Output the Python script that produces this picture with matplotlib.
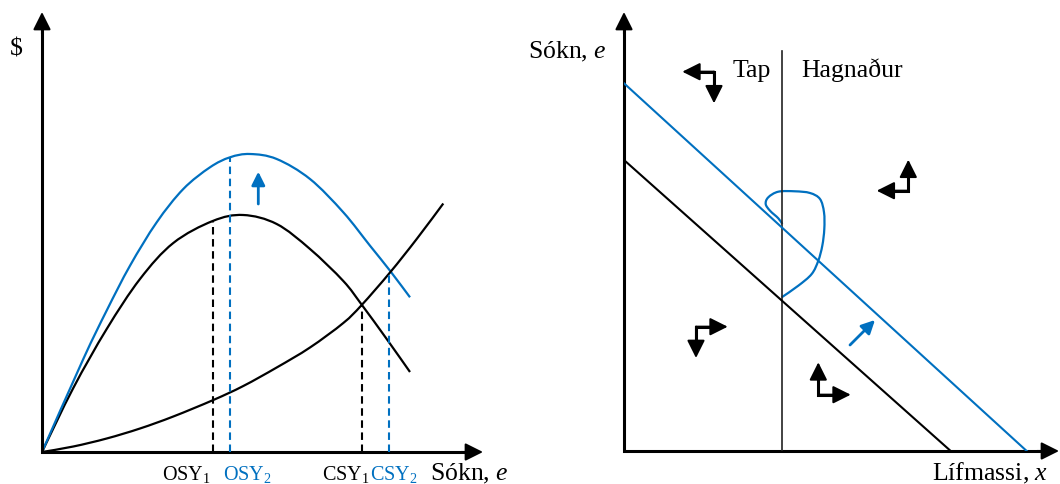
import matplotlib
matplotlib.use('Agg')
import matplotlib.pyplot as plt
from matplotlib.path import Path
from matplotlib.patches import PathPatch

plt.rcParams['font.family'] = ['Liberation Serif', 'DejaVu Serif']
plt.rcParams['mathtext.fontset'] = 'custom'
plt.rcParams['mathtext.rm'] = 'Liberation Serif'
plt.rcParams['mathtext.it'] = 'Liberation Serif:italic'

BLUE = '#0070C0'

# ---------------- left panel data (effort, $) ----------------
tr1_e = [0, 31.3, 64.7, 98, 131.3, 170.7, 201.3, 234.7, 268, 301.3, 319.7, 344.7, 368]
tr1_v = [0, 64, 123, 173, 209, 231, 237, 228, 203, 171, 147.3, 113, 80]

tr2_e = [0, 41.3, 64.7, 88, 114.7, 141.3, 168, 188, 208, 234.7, 268, 301.3, 328, 348, 368]
tr2_v = [0, 93, 141.5, 186.3, 229.7, 263, 284.7, 294.7, 298, 293, 273, 239.7, 206.3, 181.3, 154.7]

cost_e = [0, 31.3, 64.7, 98, 131.3, 171.3, 201.3, 234.7, 268, 301.3, 319.7, 348, 374.7, 401.3]
cost_v = [0, 5.5, 13.5, 23.5, 35.5, 52, 66, 84.5, 104.5, 129, 147, 179.5, 213, 248.5]

yield_e = [170.7, 188, 319.7, 347]
yield_top = [231, 294.7, 147, 180.5]
yield_labels = ['OSY$_1$', 'OSY$_2$', 'CSY$_1$', 'CSY$_2$']
yield_colors = ['black', BLUE, 'black', BLUE]
label_e = [120, 181, 280, 328]

shift_arrow_left = ((216.3, 248), (216.3, 280.3))

# ---------------- right panel data (biomass, effort) ----------------
iso1_x = [0, 326.7]
iso1_y = [291, 0]
iso2_x = [0, 402.7]
iso2_y = [367.7, 0]
breakeven_x = 158.3
breakeven_top = 400.3

spiral_x = [157.7, 174.3, 187.7, 194.3, 198.3, 200.3, 200, 196, 186, 171, 154.3, 144.3, 141.7, 146, 154.3, 158.3]
spiral_y = [153.7, 165.3, 177, 190.3, 205.3, 222, 238.7, 252, 258, 259.7, 259.3, 253.7, 247, 240.3, 232.7, 227]

# direction pairs: corner, horizontal tip x, vertical tip y
dir_corner = [(90, 379.3), (284.3, 260.3), (72, 124.3), (194.3, 56.3)]
dir_htip = [58.3, 252.7, 103.7, 226.7]
dir_vtip = [347.7, 291.3, 93, 88.7]

shift_arrow_right = ((226, 106), (251, 131))

fig = plt.figure(figsize=(10.6, 4.85), dpi=100)


def smooth(ax, xs, ys, color, lw):
    """Draw a smooth curve through the read points (Catmull-Rom as Bezier path)."""
    pts = list(zip(xs, ys))
    n = len(pts)
    verts = [pts[0]]
    codes = [Path.MOVETO]
    for i in range(n - 1):
        p0 = pts[i - 1] if i > 0 else pts[i]
        p1 = pts[i]
        p2 = pts[i + 1]
        p3 = pts[i + 2] if i + 2 < n else pts[i + 1]
        c1 = (p1[0] + (p2[0] - p0[0]) / 6, p1[1] + (p2[1] - p0[1]) / 6)
        c2 = (p2[0] - (p3[0] - p1[0]) / 6, p2[1] - (p3[1] - p1[1]) / 6)
        verts += [c1, c2, p2]
        codes += [Path.CURVE4] * 3
    ax.add_patch(PathPatch(Path(verts, codes), fill=False, edgecolor=color, lw=lw,
                           capstyle='butt', clip_on=False))


def arrow(ax, start, tip, color, ms, lw):
    ax.annotate('', xy=tip, xytext=start, annotation_clip=False,
                arrowprops=dict(arrowstyle='-|>,head_length=0.4,head_width=0.2',
                                mutation_scale=ms, lw=lw, color=color,
                                shrinkA=0, shrinkB=0))


def axis_arrows(ax, xmax, ymax):
    ax.plot([0, 0, xmax - 12], [ymax - 12, 0, 0], color='black', lw=2.2,
            solid_joinstyle='miter', clip_on=False)
    arrow(ax, (xmax - 22, 0), (xmax, 0), 'black', 27, 1.5)
    arrow(ax, (0, ymax - 22), (0, ymax), 'black', 27, 1.5)


# ---------------- left ----------------
axL = fig.add_axes([42 / 1060, 32 / 485, 441 / 1060, 440 / 485])
axL.set_xlim(0, 441)
axL.set_ylim(0, 440)
axL.axis('off')
axis_arrows(axL, 441, 440)

smooth(axL, tr1_e, tr1_v, 'black', 1.6)
smooth(axL, tr2_e, tr2_v, BLUE, 1.6)
smooth(axL, cost_e, cost_v, 'black', 1.6)

for e, top, c in zip(yield_e, yield_top, yield_colors):
    axL.plot([e, e], [0, top], color=c, lw=1.5, linestyle=(0, (3.6, 2.2)))

for lx, lab, c in zip(label_e, yield_labels, yield_colors):
    axL.text(lx, -27, lab, color=c, fontsize=14.5, ha='left', va='baseline', clip_on=False)
axL.text(388, -27, 'Sókn, $e$', fontsize=18.5, ha='left', va='baseline', clip_on=False)
axL.text(-26, 404, '$', fontsize=18.5, ha='center', va='center', clip_on=False)

arrow(axL, shift_arrow_left[0], shift_arrow_left[1], BLUE, 20, 2.0)

# ---------------- right ----------------
axR = fig.add_axes([624 / 1060, 33 / 485, 435 / 1060, 439 / 485])
axR.set_xlim(0, 435)
axR.set_ylim(0, 439)
axR.axis('off')
axis_arrows(axR, 435, 439)

axR.plot([breakeven_x, breakeven_x], [0, breakeven_top], color='#222222', lw=1.2)
axR.plot(iso1_x, iso1_y, color='black', lw=1.5)
axR.plot(iso2_x, iso2_y, color=BLUE, lw=1.5)
smooth(axR, spiral_x, spiral_y, BLUE, 1.6)

for (cx, cy), hx, vy in zip(dir_corner, dir_htip, dir_vtip):
    hdir = 1 if hx > cx else -1
    vdir = 1 if vy > cy else -1
    axR.plot([hx - hdir * 10, cx, cx], [cy, cy, vy - vdir * 10], color='black', lw=2.2,
             solid_joinstyle='miter', solid_capstyle='butt')
    arrow(axR, (cx, cy), (hx, cy), 'black', 27, 1.5)
    arrow(axR, (cx, cy), (cx, vy), 'black', 27, 1.5)

arrow(axR, shift_arrow_right[0], shift_arrow_right[1], BLUE, 20, 2.0)

axR.text(-17, 394, 'Sókn, $e$', fontsize=18.5, ha='right', va='baseline', clip_on=False)
axR.text(109, 375, 'Tap', fontsize=18.5, ha='left', va='baseline')
axR.text(177.7, 375, 'Hagnaður', fontsize=18.5, ha='left', va='baseline')
axR.text(424, -28, 'Lífmassi, $x$', fontsize=18.5, ha='right', va='baseline', clip_on=False)

fig.savefig('out.png', dpi=100)
